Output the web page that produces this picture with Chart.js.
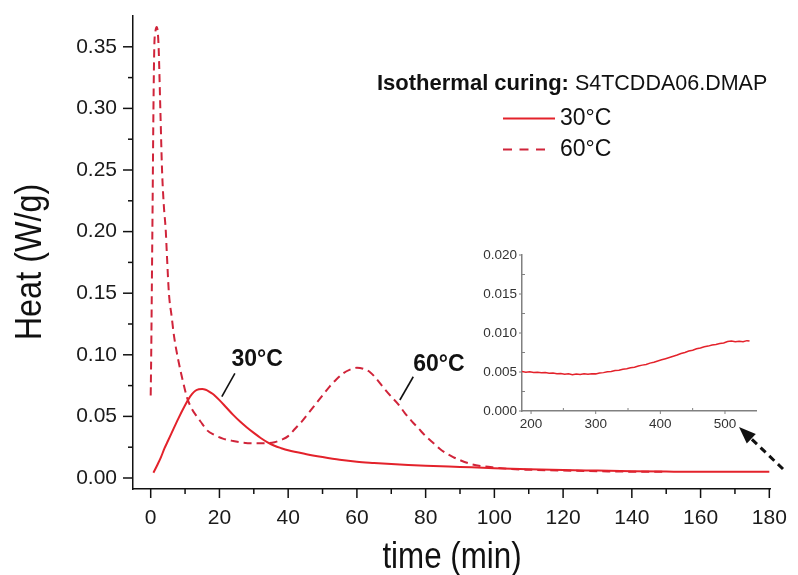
<!DOCTYPE html>
<html>
<head>
<meta charset="utf-8">
<script src="https://cdn.jsdelivr.net/npm/chart.js@4.4.1/dist/chart.umd.min.js"></script>
<style>
body{margin:0;background:#fff}
#boite{position:relative;width:798px;height:575px}
#principal{position:absolute;left:0;top:0}
#encart{position:absolute;left:460px;top:245px}
</style>
</head>
<body>
<div id="boite">
<canvas id="principal" width="798" height="575"></canvas>
<canvas id="encart" width="312" height="195"></canvas>
</div>
<script>
// courbe 30°C (trait plein)
var temps30 = [0.8, 2, 3, 4, 5, 6, 8, 10, 11, 12, 13, 14, 15, 16, 17, 18, 20, 22, 24, 26, 28, 30, 32, 34, 36, 38, 40, 45, 50, 55, 60, 65, 70, 75, 80, 90, 100, 110, 120, 130, 140, 150, 160, 170, 180]
var chaleur30 = [0.0043, 0.011, 0.017, 0.024, 0.030, 0.036, 0.048, 0.059, 0.064, 0.068, 0.0708, 0.0720, 0.0722, 0.0716, 0.0702, 0.0684, 0.0632, 0.0572, 0.0512, 0.0458, 0.0410, 0.0366, 0.0325, 0.0290, 0.0262, 0.0242, 0.0225, 0.0195, 0.0170, 0.0148, 0.0132, 0.0122, 0.0113, 0.0106, 0.0100, 0.0090, 0.0080, 0.0072, 0.0065, 0.0060, 0.0055, 0.0052, 0.0050, 0.0050, 0.0050]
// courbe 60°C (tirets)
var temps60 = [0, 0.15, 0.35, 0.55, 0.8, 1.05, 1.35, 1.75, 2.05, 2.3, 2.8, 3.3, 3.8, 4.4, 4.65, 5.3, 6.1, 6.8, 8, 9.5, 10.6, 12, 13.4, 15, 16.3, 18.5, 21, 24, 27, 30, 33, 36, 38, 40, 42, 44, 46, 48, 50, 52, 54, 56, 58, 60, 62, 64, 66, 68, 70, 72, 74, 76, 78, 80, 82, 84, 86, 88, 90, 93, 96, 100, 105, 110, 120, 130, 140, 150]
var chaleur60 = [0.067, 0.10, 0.16, 0.22, 0.30, 0.35, 0.362, 0.366, 0.362, 0.35, 0.30, 0.25, 0.222, 0.20, 0.185, 0.150, 0.131, 0.115, 0.096, 0.077, 0.065, 0.056, 0.050, 0.044, 0.039, 0.035, 0.032, 0.030, 0.0287, 0.0282, 0.0282, 0.029, 0.031, 0.034, 0.040, 0.046, 0.053, 0.060, 0.067, 0.074, 0.080, 0.085, 0.088, 0.0895, 0.0885, 0.0855, 0.0795, 0.0725, 0.066, 0.060, 0.0525, 0.046, 0.040, 0.034, 0.029, 0.024, 0.020, 0.017, 0.0145, 0.0115, 0.0098, 0.0085, 0.0073, 0.0067, 0.0060, 0.0055, 0.0051, 0.0050]
// encart 180-540 min
var tempsEncart = [186, 192, 198, 204, 210, 216, 222, 228, 234, 240, 246, 252, 258, 264, 270, 276, 282, 288, 294, 300, 306, 312, 318, 324, 330, 336, 342, 348, 354, 360, 366, 372, 378, 384, 390, 396, 402, 408, 414, 420, 426, 432, 438, 444, 450, 456, 462, 468, 474, 480, 486, 492, 498, 504, 510, 516, 522, 528, 534, 538]
var chaleurEncart = [0.00505, 0.00498, 0.00502, 0.00494, 0.00497, 0.00489, 0.00492, 0.00484, 0.00488, 0.00478, 0.00482, 0.00472, 0.00476, 0.00466, 0.00474, 0.00469, 0.00477, 0.00471, 0.00479, 0.00476, 0.00488, 0.00492, 0.00503, 0.00507, 0.00518, 0.00523, 0.00536, 0.00541, 0.00555, 0.00562, 0.00576, 0.00588, 0.00597, 0.00614, 0.00626, 0.00642, 0.00656, 0.00671, 0.00687, 0.00702, 0.00718, 0.00738, 0.00751, 0.00768, 0.00779, 0.00797, 0.00808, 0.00823, 0.00832, 0.00846, 0.00853, 0.00864, 0.00872, 0.00891, 0.00897, 0.00887, 0.00895, 0.00889, 0.00902, 0.00896]
// graduations
var xTiques = [0, 20, 40, 60, 80, 100, 120, 140, 160, 180]
var yTiques = [0, 0.05, 0.10, 0.15, 0.20, 0.25, 0.30, 0.35]
var xTiquesEncart = [200, 300, 400, 500]
var yTiquesEncart = [0, 0.005, 0.010, 0.015, 0.020]
var legende = ["30°C", "60°C"]

var rouge = "#e3222b"
var rougeTirets = "#d0243a"
var police = "'Liberation Sans', Arial, sans-serif"

function points(xs, ys){
	var res = []
	for(var i=0;i<xs.length;i++){
		res.push({x: xs[i], y: ys[i]})
	}
	return res
}
function milieux(liste){
	var res = []
	for(var i=0;i<liste.length-1;i++){
		res.push((liste[i]+liste[i+1])/2)
	}
	return res
}
function trait(ctx, x1, y1, x2, y2){
	ctx.beginPath()
	ctx.moveTo(x1, y1)
	ctx.lineTo(x2, y2)
	ctx.stroke()
}
// taille fixe des axes, sans marge ajoutee pour les etiquettes
function fixer(s, taille){
	if(s.isHorizontal()) s.height = taille
	else s.width = taille
	s.paddingLeft = 0
	s.paddingRight = 0
	s.paddingTop = 0
	s.paddingBottom = 0
}
// petits traits de graduation (majeurs + mineurs)
function graduer(ctx, s, majeurs, lgMaj, lgMin, minDedans){
	var mineurs = milieux(majeurs)
	var tout = majeurs.map(v => [v, true]).concat(mineurs.map(v => [v, false]))
	for(var i=0;i<tout.length;i++){
		var p = s.getPixelForValue(tout[i][0])
		var maj = tout[i][1]
		var L = maj ? lgMaj : lgMin
		var sens = (!maj && minDedans) ? -1 : 1
		if(s.isHorizontal()){
			trait(ctx, p, s.top, p, s.top + sens*L)
		} else {
			trait(ctx, s.right, p, s.right - sens*L, p)
		}
	}
}

var pluginPrincipal = {
	id: "decor",
	afterDraw: function(chart){
		var ctx = chart.ctx
		var sx = chart.scales.x
		var sy = chart.scales.y
		ctx.save()
		ctx.strokeStyle = "#111"
		ctx.lineWidth = 1.5
		graduer(ctx, sx, xTiques, 9, 5, false)
		graduer(ctx, sy, yTiques, 10, 5, false)

		// titres des axes
		ctx.fillStyle = "#111"
		ctx.font = "36px " + police
		ctx.textAlign = "center"
		ctx.textBaseline = "alphabetic"
		ctx.save()
		ctx.translate(452, 568)
		ctx.scale(0.87, 1)
		ctx.fillText("time (min)", 0, 0)
		ctx.restore()
		ctx.save()
		ctx.translate(41, 262)
		ctx.rotate(-Math.PI/2)
		ctx.scale(0.9, 1)
		ctx.fillText("Heat (W/g)", 0, 0)
		ctx.restore()

		// legende
		ctx.textAlign = "left"
		ctx.textBaseline = "middle"
		ctx.font = "bold 22px " + police
		var t1 = "Isothermal curing:"
		ctx.fillText(t1, 377, 84)
		var w1 = ctx.measureText(t1).width
		ctx.font = "21.5px " + police
		ctx.fillText(" S4TCDDA06.DMAP", 377 + w1, 84)
		ctx.lineWidth = 2
		ctx.strokeStyle = rouge
		trait(ctx, 503, 118.5, 555, 118.5)
		ctx.strokeStyle = rougeTirets
		ctx.setLineDash([9, 7.5])
		trait(ctx, 503, 149.5, 546, 149.5)
		ctx.setLineDash([])
		ctx.font = "23px " + police
		ctx.fillText(legende[0], 560, 119)
		ctx.fillText(legende[1], 560, 150)

		// annotations reliees aux courbes
		ctx.font = "bold 23px " + police
		ctx.fillText(legende[0], sx.getPixelForValue(23.5), sy.getPixelForValue(0.0958))
		ctx.fillText(legende[1], sx.getPixelForValue(76.4), sy.getPixelForValue(0.0917))
		ctx.strokeStyle = "#111"
		ctx.lineWidth = 1.6
		trait(ctx, sx.getPixelForValue(20.7), sy.getPixelForValue(0.066), sx.getPixelForValue(24.5), sy.getPixelForValue(0.085))
		trait(ctx, sx.getPixelForValue(72.5), sy.getPixelForValue(0.0633), sx.getPixelForValue(76.4), sy.getPixelForValue(0.0822))

		// fleche vers l'encart
		var x0 = 783, y0 = 469, xp = 739, yp = 427
		var dx = xp - x0, dy = yp - y0
		var n = Math.sqrt(dx*dx + dy*dy)
		dx /= n; dy /= n
		ctx.lineWidth = 3
		ctx.setLineDash([7, 5])
		trait(ctx, x0, y0, xp - dx*14, yp - dy*14)
		ctx.setLineDash([])
		ctx.fillStyle = "#111"
		ctx.beginPath()
		ctx.moveTo(xp, yp)
		ctx.lineTo(xp - dx*17 - dy*6.5, yp - dy*17 + dx*6.5)
		ctx.lineTo(xp - dx*17 + dy*6.5, yp - dy*17 - dx*6.5)
		ctx.closePath()
		ctx.fill()
		ctx.restore()
	}
}

new Chart("principal", {
	type: "line",
	data: {
		datasets: [
			{label: legende[0], data: points(temps30, chaleur30), borderColor: rouge, borderWidth: 2, pointRadius: 0, cubicInterpolationMode: "monotone"},
			{label: legende[1], data: points(temps60, chaleur60), borderColor: rougeTirets, borderWidth: 2, borderDash: [8, 5], pointRadius: 0, cubicInterpolationMode: "monotone"}
		]
	},
	options: {
		responsive: false,
		animation: false,
		devicePixelRatio: 1,
		events: [],
		layout: {padding: {left: 0, top: 16, right: 28, bottom: 0}},
		plugins: {legend: {display: false}, tooltip: {enabled: false}},
		scales: {
			x: {
				type: "linear", min: -5.15, max: 180.2,
				grid: {display: false, drawTicks: false},
				border: {display: true, color: "#111", width: 1.5},
				afterFit: function(s){ fixer(s, 86) },
				afterBuildTicks: function(s){ s.ticks = xTiques.map(v => ({value: v})) },
				ticks: {autoSkip: false, maxRotation: 0, padding: 16.5, color: "#1a1a1a", font: {size: 21, family: police},
					callback: v => String(v)}
			},
			y: {
				type: "linear", min: -0.00893, max: 0.375,
				grid: {display: false, drawTicks: false},
				border: {display: true, color: "#111", width: 1.5},
				afterFit: function(s){ fixer(s, 133) },
				afterBuildTicks: function(s){ s.ticks = yTiques.map(v => ({value: v})) },
				ticks: {autoSkip: false, padding: 16, color: "#1a1a1a", font: {size: 21, family: police},
					callback: v => v.toFixed(2)}
			}
		}
	},
	plugins: [pluginPrincipal]
})

var pluginEncart = {
	id: "decorEncart",
	afterDraw: function(chart){
		var ctx = chart.ctx
		ctx.save()
		ctx.strokeStyle = "#808080"
		ctx.lineWidth = 1
		graduer(ctx, chart.scales.x, xTiquesEncart, 3, 3, true)
		graduer(ctx, chart.scales.y, yTiquesEncart, 3, 3, true)
		ctx.restore()
	}
}

new Chart("encart", {
	type: "line",
	data: {
		datasets: [
			{data: points(tempsEncart, chaleurEncart), borderColor: rouge, borderWidth: 1.5, pointRadius: 0, tension: 0}
		]
	},
	options: {
		responsive: false,
		animation: false,
		devicePixelRatio: 1,
		events: [],
		layout: {padding: {left: 0, top: 10, right: 16, bottom: 0}},
		plugins: {legend: {display: false}, tooltip: {enabled: false}},
		scales: {
			x: {
				type: "linear", min: 186, max: 548,
				grid: {display: false, drawTicks: false},
				border: {display: true, color: "#808080", width: 1.5},
				afterFit: function(s){ fixer(s, 29) },
				afterBuildTicks: function(s){ s.ticks = xTiquesEncart.map(v => ({value: v})) },
				ticks: {autoSkip: false, maxRotation: 0, padding: 5, color: "#333", font: {size: 13.5, family: police},
					callback: v => String(v)}
			},
			y: {
				type: "linear", min: 0, max: 0.02,
				grid: {display: false, drawTicks: false},
				border: {display: true, color: "#808080", width: 1.5},
				afterFit: function(s){ fixer(s, 62) },
				afterBuildTicks: function(s){ s.ticks = yTiquesEncart.map(v => ({value: v})) },
				ticks: {autoSkip: false, padding: 5, color: "#333", font: {size: 13.5, family: police},
					callback: v => v.toFixed(3)}
			}
		}
	},
	plugins: [pluginEncart]
})
</script>
</body>
</html>
